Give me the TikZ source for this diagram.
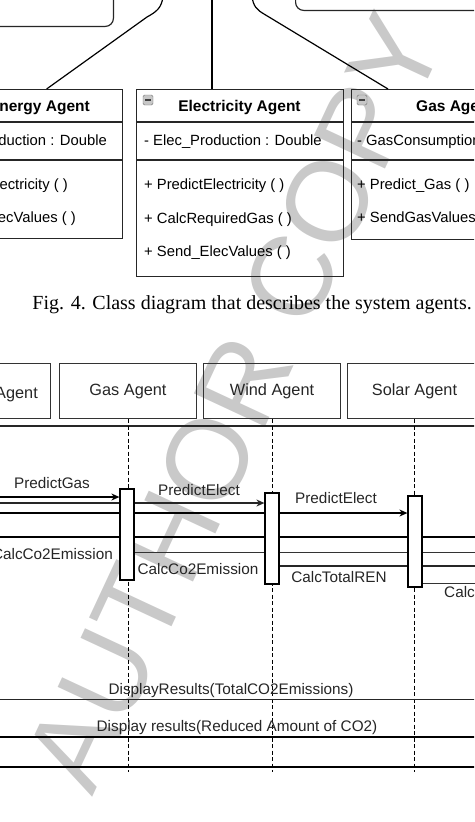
\documentclass[tikz,border=0pt]{standalone}
\usepackage{fontspec}
\setmainfont{Liberation Sans}
\newfontfamily\capfont{Liberation Serif}
\usetikzlibrary{arrows.meta,backgrounds}

\tikzset{
	topbox/.style={draw=black!85, line width=1.2pt, rounded corners=8pt},
	classbox/.style={draw=black!85, line width=1.2pt, anchor=north west, inner sep=0pt},
	sep/.style={draw=black!85, line width=1.1pt},
	link/.style={draw=black, line width=1.2pt},
	icon/.style={draw=black!55, fill=black!22, rounded corners=1.5pt, minimum size=10pt, inner sep=0pt,
		path picture={\draw[black!75, line width=1.3pt] ([xshift=-3pt]path picture bounding box.center) -- ([xshift=3pt]path picture bounding box.center);}},
	headtxt/.style={font=\bfseries\fontsize{15.5}{18}\selectfont, anchor=base, inner sep=0pt},
	membtxt/.style={font=\fontsize{14.8}{18}\selectfont, anchor=base west, inner sep=0pt},
	seqbox/.style={draw=black!80, line width=1pt, minimum width=137pt, minimum height=55pt, inner sep=0pt,
		font=\fontsize{16.3}{19}\selectfont, text=black!85},
	lifeline/.style={draw=black, line width=1pt, dash pattern=on 4pt off 2.5pt},
	actbox/.style={draw=black, line width=1.2pt, fill=white, minimum width=14pt, inner sep=0pt},
	lbl/.style={font=\fontsize{15.3}{18}\selectfont, text=black!85, anchor=base, inner sep=0pt},
}

\begin{document}
\begin{tikzpicture}[x=1pt, y=-1pt, >={Stealth[length=8pt,width=7pt]}]
	\useasboundingbox (0,0) rectangle (474,822);
	\clip (0,0) rectangle (474,822);
	\begin{scope}[on background layer]
		\fill[white] (0,0) rectangle (474,822);
		%watermark
		\node (wmark) at (234,402) [rotate=65, text=black, text opacity=0.21, inner sep=0pt, font=\fontsize{114}{114}\selectfont] {AUTHOR COPY};
	\end{scope}
	
	%boxes cut off at the top
	\node (topleft) at (114,27) [topbox, anchor=south east, minimum width=150pt, minimum height=60pt] {};
	\node (topright) at (295,11) [topbox, anchor=south west, minimum width=220pt, minimum height=50pt] {};
	
	%class boxes
	\node (energy) at (-30,89) [classbox, minimum width=152pt, minimum height=149pt] {};
	\node (elec) at (136,89) [classbox, minimum width=207pt, minimum height=187pt] {};
	\node (gas) at (351,89) [classbox, minimum width=196pt, minimum height=150pt] {};
	\foreach \b in {energy,elec,gas}{
		\draw[sep] ([yshift=-33pt]\b.north west) -- ([yshift=-33pt]\b.north east);
		\draw[sep] ([yshift=-71pt]\b.north west) -- ([yshift=-71pt]\b.north east);
	}
	
	\node (elecicon) at (148,100) [icon] {};
	\node (gasicon) at (362,100) [icon] {};
	
	\node (energyhead) at (90,111) [headtxt, anchor=base east] {nergy Agent};
	\node (energyattr) at (107,145) [membtxt, anchor=base east] {duction : Double};
	\node (energym1) at (68,189) [membtxt, anchor=base east] {ectricity ( )};
	\node (energym2) at (76,222) [membtxt, anchor=base east] {ecValues ( )};
	
	\node (elechead) at (239.5,111) [headtxt] {Electricity Agent};
	\node (elecattr) at (144,145) [membtxt] {- Elec\_Production : Double};
	\node (elecm1) at (144,189) [membtxt] {+ PredictElectricity ( )};
	\node (elecm2) at (144,223) [membtxt] {+ CalcRequiredGas ( )};
	\node (elecm3) at (144,256) [membtxt] {+ Send\_ElecValues ( )};
	
	\node (gashead) at (416,111) [headtxt, anchor=base west] {Gas Agent};
	\node (gasattr) at (357,145) [membtxt] {- GasConsumption};
	\node (gasm1) at (357,189) [membtxt] {+ Predict\_Gas ( )};
	\node (gasm2) at (357,222) [membtxt] {+ SendGasValues ( )};
	
	%links from above
	\coordinate (lcup) at (163,-4);
	\coordinate (mcup) at (212,-4);
	\coordinate (rcup) at (252,-4);
	\draw[link] (lcup) .. controls (162,8) and (156,12) .. (147,17) -- (energy.north);
	\draw[link] (mcup) -- (mcup |- elec.north);
	\draw[link] (rcup) .. controls (253,6) and (257,10) .. (264,14) -- ([xshift=37pt]gas.north west);
	
	\node (caption) at (472,309) [anchor=base east, inner sep=0pt, font=\capfont\fontsize{20}{24}\selectfont] {Fig. 4. Class diagram that describes the system agents.};
	
	%sequence diagram
	\node (firstbox) at (51,363) [seqbox, anchor=north east] {};
	\node (firsttxt) at (38,398) [lbl, anchor=base east, font=\fontsize{16.3}{19}\selectfont] {Agent};
	\node (gasbox) at (59,363) [seqbox, anchor=north west] {Gas Agent};
	\node (windbox) at (203,363) [seqbox, anchor=north west] {Wind Agent};
	\node (solarbox) at (347,363) [seqbox, anchor=north west, minimum width=134pt] {Solar Agent};
	
	\coordinate (headl) at (-5,426);
	\coordinate (headr) at (480,426);
	\draw[line width=1.4pt, black!85] (headl) -- (headr);
	
	\coordinate (lifeend) at (0,772);
	\foreach \b in {gasbox,windbox,solarbox}
		\draw[lifeline] (\b.south) -- (\b.south |- lifeend);
	
	\node (gasact) at (127,534.5) [actbox, minimum height=91pt] {};
	\node (windact) at (272,538.5) [actbox, minimum height=91pt] {};
	\node (solaract) at (415,541.5) [actbox, minimum height=91pt] {};
	
	%messages, behind the activations
	\begin{scope}[on background layer]
		\coordinate (pg) at (-5,497);
		\coordinate (pe1) at (-5,503);
		\coordinate (pe2) at (-5,513);
		\coordinate (cc1) at (-5,537);
		\coordinate (cc1r) at (480,537);
		\coordinate (cc2) at (480,552);
		\coordinate (ctr) at (480,566);
		\coordinate (cx) at (480,583);
		\draw[->, line width=1.5pt] (pg) -- (gasact.west |- pg);
		\draw[->, line width=1.1pt, black!85] (pe1) -- (windact.west |- pe1);
		\draw[->, line width=1.2pt] (pe2) -- (solaract.west |- pe2);
		\draw[line width=1.5pt] (cc1) -- (cc1r);
		\draw[line width=0.8pt, black!80] (gasact.east |- cc2) -- (cc2);
		\draw[line width=1.1pt, black!85] (windact.east |- ctr) -- (ctr);
		\draw[line width=0.9pt, black!80] (solaract.east |- cx) -- (cx);
	\end{scope}
	
	\node (pglbl) at (52,488) [lbl] {PredictGas};
	\node (pe1lbl) at (199,495) [lbl] {PredictElect};
	\node (pe2lbl) at (336,503) [lbl] {PredictElect};
	\node (cc1lbl) at (113,559) [lbl, anchor=base east] {CalcCo2Emission};
	\node (cc2lbl) at (198,574) [lbl] {CalcCo2Emission};
	\node (ctrlbl) at (339,582) [lbl] {CalcTotalREN};
	\node (cxlbl) at (444,597) [lbl, anchor=base west] {Calc};
	
	%results
	\coordinate (r1l) at (-5,699);
	\coordinate (r1r) at (480,699);
	\coordinate (r2l) at (-5,737);
	\coordinate (r2r) at (480,737);
	\coordinate (r3l) at (-5,767);
	\coordinate (r3r) at (480,767);
	\draw[line width=0.9pt, black!85] (r1l) -- (r1r);
	\draw[line width=1.5pt] (r2l) -- (r2r);
	\draw[line width=1.5pt] (r3l) -- (r3r);
	\node (r1lbl) at (231,694) [lbl] {DisplayResults(TotalCO2Emissions)};
	\node (r2lbl) at (237,731) [lbl] {Display results(Reduced Amount of CO2)};
\end{tikzpicture}
\end{document}
